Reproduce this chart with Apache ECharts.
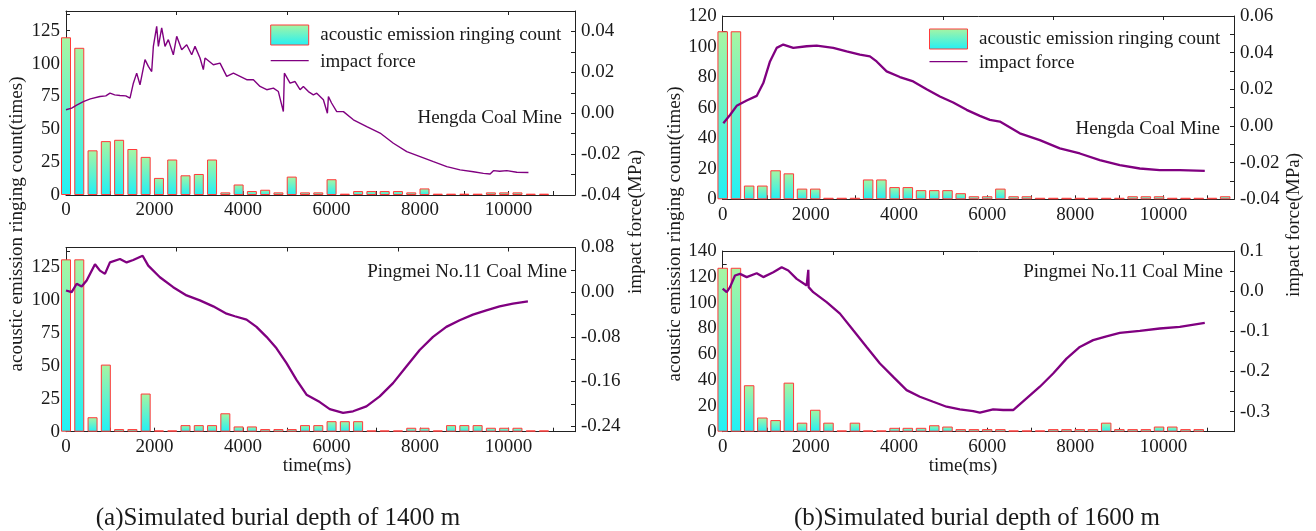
<!DOCTYPE html>
<html>
<head>
<meta charset="utf-8">
<script src="https://cdn.jsdelivr.net/npm/echarts@6/dist/echarts.min.js"></script>
<style>
html,body{margin:0;padding:0;background:#fff;}
#chart{width:1316px;height:531px;}
</style>
</head>
<body>
<div id="chart"></div>
<script>
// ---------------- DATA ----------------
const binTimesA = [0,300,600,900,1200,1500,1800,2100,2400,2700,3000,3300,3600,3900,4200,4500,4800,5100,5400,5700,6000,6300,6600,6900,7200,7500,7800,8100,8400,8700,9000,9300,9600,9900,10200,10500,10800];
const binTimesB = [0,300,600,900,1200,1500,1800,2100,2400,2700,3000,3300,3600,3900,4200,4500,4800,5100,5400,5700,6000,6300,6600,6900,7200,7500,7800,8100,8400,8700,9000,9300,9600,9900,10200,10500,10800,11100,11400];

// (a) 1400 m, Hengda Coal Mine
const aTopCounts = [120,112,34,41,42,35,29,13,27,15,16,27,2,8,3,4,2,14,2,2,12,1,3,3,3,3,2,5,1,1,1,1,2,2,2,1,1];
const aTopForceT = [0,128,241,392,550,768,900,994,1100,1220,1350,1446,1522,1597,1672,1785,1861,1936,1974,2049,2087,2162,2237,2312,2425,2501,2614,2727,2840,2915,3028,3103,3141,3329,3480,3631,3782,3932,4083,4234,4384,4535,4686,4798,4911,4934,5062,5175,5288,5363,5476,5589,5665,5815,5906,5929,6000,6117,6268,6493,6795,7096,7397,7699,8000,8301,8603,8904,9205,9431,9582,9657,9800,9959,10185,10448];
const aTopForceV = [0.0017,0.0025,0.0040,0.0057,0.0070,0.0082,0.0085,0.0098,0.0090,0.0087,0.0085,0.0074,0.0147,0.0196,0.0139,0.0262,0.0229,0.0204,0.0327,0.0425,0.0327,0.0417,0.0327,0.0360,0.0286,0.0376,0.0310,0.0335,0.0286,0.0327,0.0270,0.0213,0.0270,0.0237,0.0245,0.0180,0.0196,0.0180,0.0164,0.0164,0.0131,0.0115,0.0123,0.0106,0.0008,0.0196,0.0147,0.0155,0.0115,0.0131,0.0106,0.0090,0.0098,0.0066,0.0000,0.0082,0.0050,0.0008,0.0008,-0.0032,-0.0065,-0.0097,-0.0147,-0.0188,-0.0212,-0.0237,-0.0261,-0.0277,-0.0286,-0.0294,-0.0297,-0.0281,-0.0284,-0.0281,-0.0289,-0.0290];

// (a) 1400 m, Pingmei No.11 Coal Mine
const aBotCounts = [131,131,11,51,2,2,29,1,1,5,5,5,14,4,4,2,2,2,5,5,8,8,8,1,1,1,3,3,1,5,5,5,3,3,3,1,1];
const aBotForceT = [0,128,241,354,467,655,767,880,993,1219,1370,1519,1731,1858,2122,2422,2724,3025,3326,3628,3815,4079,4304,4530,4756,4982,5208,5434,5734,5959,6260,6486,6787,7088,7389,7690,7991,8292,8593,8894,9194,9496,9797,10097,10436];
const aBotForceV = [0.003,0.000,0.015,0.010,0.021,0.050,0.0386,0.0327,0.0533,0.0594,0.0533,0.0576,0.0652,0.0475,0.0267,0.0089,-0.0059,-0.0148,-0.0254,-0.0385,-0.0432,-0.0491,-0.0622,-0.080,-0.1007,-0.1273,-0.157,-0.1837,-0.1970,-0.2095,-0.2163,-0.2134,-0.2045,-0.1867,-0.163,-0.1333,-0.1037,-0.080,-0.0622,-0.0504,-0.0402,-0.0325,-0.0254,-0.0207,-0.0166];

// (b) 1600 m, Hengda Coal Mine
const bTopCounts = [110,110,9,9,19,17,7,7,1,1,1,13,13,8,8,6,6,6,4,2,2,7,2,2,1,1,1,1,1,1,1,2,2,2,1,1,1,1,2];
const bTopForceT = [14,166,317,544,771,921,1073,1224,1374,1601,1905,2132,2508,2812,3113,3340,3492,3719,4020,4322,4626,4927,5229,5533,5834,6061,6288,6741,7195,7648,8102,8555,9009,9463,9916,10370,10937];
const bTopForceV = [0.0015,0.006,0.011,0.0139,0.0164,0.0234,0.0352,0.0426,0.0444,0.0426,0.0435,0.0438,0.0426,0.0407,0.0389,0.0380,0.0352,0.0298,0.0267,0.0243,0.0201,0.0161,0.0128,0.0088,0.0055,0.0033,0.0024,-0.0040,-0.0077,-0.0122,-0.0150,-0.0186,-0.0214,-0.0232,-0.0241,-0.0241,-0.0245];

// (b) 1600 m, Pingmei No.11 Coal Mine
const bBotCounts = [127,127,36,11,9,38,7,17,7,1,7,1,1,3,3,3,5,4,2,2,2,2,1,1,1,2,2,2,2,7,2,2,2,4,4,2,2];
const bBotForceT = [0,91,166,279,392,544,771,921,1148,1338,1488,1678,1905,1935,1942,1950,2054,2358,2660,2962,3265,3567,3869,4172,4474,4776,5079,5381,5683,5834,6136,6363,6590,6893,7195,7497,7800,8102,8404,8707,9009,9463,9916,10370,10937];
const bBotForceV = [0.006,-0.0025,0.010,0.039,0.043,0.035,0.0447,0.035,0.047,0.0596,0.0513,0.0306,0.0141,0.012,0.053,0.010,-0.0025,-0.0273,-0.056,-0.0975,-0.139,-0.180,-0.2134,-0.2464,-0.263,-0.2754,-0.2878,-0.2943,-0.2990,-0.3027,-0.2943,-0.296,-0.296,-0.267,-0.238,-0.205,-0.168,-0.139,-0.122,-0.1124,-0.104,-0.099,-0.093,-0.089,-0.079];

const seriesNames = ['acoustic emission ringing count','impact force'];
const mineNames = ['Hengda Coal Mine','Pingmei No.11 Coal Mine'];
const captions = ['(a)Simulated burial depth of 1400 m','(b)Simulated burial depth of 1600 m'];
const leftTitle = 'acoustic emission ringing count(times)';
const rightTitle = 'impact force(MPa)';
const xTitle = 'time(ms)';
const aBotRightTicks = [-0.24,-0.20,-0.16,-0.12,-0.08,-0.04,0,0.04,0.08];
const aBotRightLabels = [-0.24,-0.16,-0.08,0,0.08];

// ---------------- STYLE ----------------
const FONT = 'Liberation Serif';
const TXT = '#1a1a1a';
const AX = '#222';
const LINEC = '#800080';
const BAR_TOP = '#a8f5a2', BAR_BOT = '#22f0f5', BAR_EDGE = '#ff3a3a';

const grids = [
  {left:66, top:11, width:509, height:184},
  {left:66, top:247.5, width:509, height:184.2},
  {left:722.7, top:16, width:511.3, height:183.3},
  {left:722.7, top:251, width:511.3, height:180.7}
];
const xMax = [11500, 11500, 11600, 11600];

function xAxesFor(gi){
  return [{
    type:'value', gridIndex:gi, position:'bottom', min:0, max:xMax[gi], interval:1000,
    axisLine:{show:true, onZero:false, lineStyle:{color:AX, width:1}},
    axisTick:{show:true, inside:true, length:4, lineStyle:{color:AX}},
    axisLabel:{color:TXT, fontFamily:FONT, fontSize:19, margin:6,
      formatter:v => (v % 2000 === 0 && v <= 10000) ? String(v) : ''},
    splitLine:{show:false}
  },{
    type:'value', gridIndex:gi, position:'top', min:0, max:xMax[gi], interval:2500,
    axisLine:{show:true, onZero:false, lineStyle:{color:AX, width:1}},
    axisTick:{show:true, inside:true, length:4, lineStyle:{color:AX}},
    axisLabel:{show:false}, splitLine:{show:false}
  }];
}
function leftAxis(gi, max, interval, labelStep){
  return {
    type:'value', gridIndex:gi, position:'left', min:0, max:max, interval:interval,
    axisLine:{show:true, onZero:false, lineStyle:{color:AX, width:1}},
    axisTick:{show:true, inside:true, length:4, lineStyle:{color:AX}},
    axisLabel:{color:TXT, fontFamily:FONT, fontSize:19, margin:6,
      formatter:v => { const r = Math.round(v*10); return (r % Math.round(labelStep*10) === 0) ? String(Math.round(v)) : ''; }},
    splitLine:{show:false}
  };
}
function rightAxis(gi, min, max, interval, labelStep, dec, maxLabel){
  return {
    type:'value', gridIndex:gi, position:'right', min:min, max:max, interval:interval,
    axisLine:{show:true, onZero:false, lineStyle:{color:AX, width:1}},
    axisTick:{show:true, inside:true, length:4, lineStyle:{color:AX}},
    axisLabel:{color:TXT, fontFamily:FONT, fontSize:19, margin:6,
      formatter:v => {
        const r = Math.round(v*1000), s = Math.round(labelStep*1000);
        if (r % s !== 0 || v > maxLabel + 1e-9) return '';
        const x = Math.abs(v) < 1e-9 ? 0 : v;
        return x.toFixed(dec);
      }},
    splitLine:{show:false}
  };
}

const xAxis = [].concat(xAxesFor(0), xAxesFor(1), xAxesFor(2), xAxesFor(3));

const aBotRight = {
  type:'value', gridIndex:1, position:'right', min:-0.25, max:0.08,
  axisLine:{show:true, onZero:false, lineStyle:{color:AX, width:1}},
  axisTick:{show:true, inside:true, length:4, lineStyle:{color:AX}, customValues:aBotRightTicks},
  axisLabel:{color:TXT, fontFamily:FONT, fontSize:19, margin:6, customValues:aBotRightLabels,
    formatter:v => (Math.abs(v) < 1e-9 ? 0 : v).toFixed(2)},
  splitLine:{show:false}
};

const yAxis = [
  leftAxis(0, 140, 12.5, 25),
  rightAxis(0, -0.04, 0.05, 0.01, 0.02, 2, 0.04),
  leftAxis(1, 140, 12.5, 25),
  aBotRight,
  leftAxis(2, 120, 10, 20),
  rightAxis(2, -0.04, 0.06, 0.01, 0.02, 2, 0.06),
  leftAxis(3, 140, 10, 20),
  rightAxis(3, -0.35, 0.1, 0.05, 0.1, 1, 0.1)
];

function barGrad(){
  return new echarts.graphic.LinearGradient(0,0,0,1,[
    {offset:0, color:BAR_TOP},{offset:1, color:BAR_BOT}
  ]);
}

function barSeries(gi, times, counts, w){
  return {
    name:seriesNames[0], type:'bar', xAxisIndex:gi*2, yAxisIndex:gi*2,
    data: times.map((t,i)=>[t, counts[i]]),
    barWidth:w, itemStyle:{color:barGrad(), borderColor:BAR_EDGE, borderWidth:1}, z:2, clip:true
  };
}
function lineSeries(gi, ts, vs, w){
  return {
    name:seriesNames[1], type:'line', xAxisIndex:gi*2, yAxisIndex:gi*2+1,
    data: ts.map((t,i)=>[t, vs[i]]),
    symbol:'none', showSymbol:false, lineStyle:{color:LINEC, width:w},
    itemStyle:{color:LINEC}, z:3
  };
}

const series = [
  barSeries(0, binTimesA, aTopCounts, 10),
  lineSeries(0, aTopForceT, aTopForceV, 1.4),
  barSeries(1, binTimesA, aBotCounts, 10),
  lineSeries(1, aBotForceT, aBotForceV, 2.3),
  barSeries(2, binTimesB, bTopCounts, 10.5),
  lineSeries(2, bTopForceT, bTopForceV, 2.3),
  barSeries(3, binTimesB, bBotCounts, 10.5),
  lineSeries(3, bBotForceT, bBotForceV, 2.3)
];

function txt(x, y, text, size, align, rot){
  return {type:'text', x:x, y:y, rotation:rot||0, silent:true,
    style:{text:text, fill:TXT, font:size+'px "'+FONT+'"', textAlign:align||'center', textVerticalAlign:'middle'}};
}
// legend drawn as graphic: swatch box, line sample and labels
function legendGraphic(x, yBox, yLine){
  return [
    {type:'rect', silent:true, shape:{x:x, y:yBox-10, width:38, height:20},
      style:{fill:barGrad(), stroke:BAR_EDGE, lineWidth:1}},
    {type:'line', silent:true, shape:{x1:x, y1:yLine, x2:x+38, y2:yLine},
      style:{stroke:LINEC, lineWidth:1.3}},
    txt(x+49.5, yBox, seriesNames[0], 19, 'left'),
    txt(x+49.5, yLine+1.5, seriesNames[1], 19, 'left')
  ];
}

const graphic = [].concat(
  legendGraphic(270.7, 35, 60.7),
  legendGraphic(929.5, 39, 61.7),
  [
  txt(562, 118, mineNames[0], 19, 'right'),
  txt(567, 272, mineNames[1], 19, 'right'),
  txt(1220, 129, mineNames[0], 19, 'right'),
  txt(1223, 272, mineNames[1], 19, 'right'),
  txt(17.5, 224, leftTitle, 19, 'center', Math.PI/2),
  txt(675, 234, leftTitle, 19, 'center', Math.PI/2),
  txt(636, 222, rightTitle, 19, 'center', Math.PI/2),
  txt(1294, 225, rightTitle, 19, 'center', Math.PI/2),
  txt(317, 466, xTitle, 19, 'center'),
  txt(963, 466, xTitle, 19, 'center'),
  txt(278, 518, captions[0], 25, 'center'),
  txt(977, 518, captions[1], 25, 'center')
  ]
);

const chart = echarts.init(document.getElementById('chart'), null, {renderer:'canvas'});
chart.setOption({
  animation:false,
  backgroundColor:'#fff',
  grid:grids,
  xAxis:xAxis,
  yAxis:yAxis,
  series:series,
  graphic:graphic
});
</script>
</body>
</html>
